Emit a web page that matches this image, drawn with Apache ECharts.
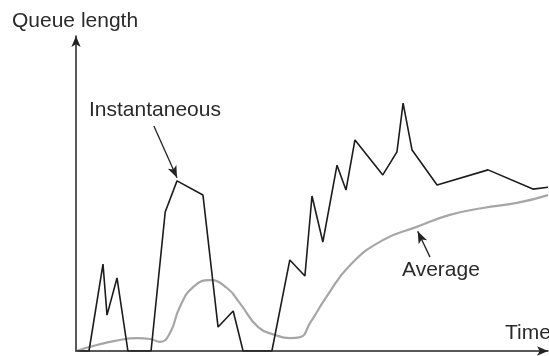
<!DOCTYPE html>
<html>
<head>
<meta charset="utf-8">
<script src="https://cdn.jsdelivr.net/npm/echarts@6/dist/echarts.min.js"></script>
<style>
html,body{margin:0;padding:0;background:#fff;}
#chart{width:549px;height:356px;}
</style>
</head>
<body>
<div id="chart"></div>
<script>
// Instantaneous queue length (time, length)
var instTime = [0, 2.75, 5.72, 6.57, 8.69, 11.0, 15.9, 18.9, 21.4, 26.9, 30.1, 33.3, 35.4, 41.5, 45.3, 48.5, 50.0, 52.3, 55.3, 57.2, 59.1, 65.0, 68.0, 69.3, 71.2, 76.5, 87.3, 96.8, 100];
var instQueue = [0, 0, 27.6, 11.4, 23.2, 0, 0, 44.1, 54.0, 49.5, 7.6, 12.7, 0, 0, 28.9, 23.8, 49.2, 34.6, 59.0, 51.1, 67.0, 55.9, 63.2, 78.7, 63.8, 52.7, 57.5, 51.4, 52.0];
// Average queue length (time, length)
var avgTime = [0, 4.4, 8.3, 12.9, 15.7, 17.8, 19.9, 22.0, 24.8, 28.4, 32.0, 34.7, 38.6, 42.2, 45.3, 47.5, 49.6, 53.2, 58.1, 65.0, 72.2, 79.2, 86.2, 93.4, 100];
var avgQueue = [0, 1.9, 3.2, 4.1, 3.8, 2.9, 5.7, 14.0, 20.3, 22.5, 20.0, 15.2, 7.6, 5.1, 4.1, 4.4, 8.9, 17.5, 27.3, 35.2, 39.4, 43.2, 45.4, 47.0, 49.5];
// Text labels
var yAxisTitle = 'Queue length';
var xAxisTitle = 'Time';
var instLabel = 'Instantaneous';
var avgLabel = 'Average';

function zip(a, b) { return a.map(function (v, i) { return [v, b[i]]; }); }

var chart = echarts.init(document.getElementById('chart'));
var font = '21px "Liberation Sans", Arial, sans-serif';
var txtColor = '#2a2a2a';
chart.setOption({
  animation: false,
  backgroundColor: '#fff',
  grid: { left: 76, right: 1, top: 36, bottom: 5 },
  xAxis: {
    type: 'value', min: 0, max: 100,
    axisLabel: { show: false }, axisTick: { show: false }, splitLine: { show: false },
    axisLine: { show: true, symbol: ['none', 'arrow'], symbolSize: [7, 11],
      lineStyle: { color: '#222', width: 1.5 } }
  },
  yAxis: {
    type: 'value', min: 0, max: 100,
    axisLabel: { show: false }, axisTick: { show: false }, splitLine: { show: false },
    axisLine: { show: true, symbol: ['none', 'arrow'], symbolSize: [7, 11],
      lineStyle: { color: '#222', width: 1.5 } }
  },
  series: [
    {
      type: 'line', data: zip(avgTime, avgQueue), smooth: 0.5, showSymbol: false,
      lineStyle: { color: '#a6a6a6', width: 2.2 }, z: 2
    },
    {
      type: 'line', data: zip(instTime, instQueue), showSymbol: false,
      lineStyle: { color: '#1c1c1c', width: 1.6 }, z: 3
    },
    {
      type: 'line', data: [], silent: true,
      markLine: {
        silent: true, symbol: ['none', 'arrow'], symbolSize: [7, 12],
        label: { show: false },
        lineStyle: { color: '#222', width: 1.3, type: 'solid' },
        data: [
          [{ coord: [16.5, 71.4] }, { coord: [21.4, 55.0] }],
          [{ coord: [75.0, 29.8] }, { coord: [72.4, 38.0] }]
        ]
      }
    }
  ],
  graphic: [
    { type: 'text', style: { text: yAxisTitle, x: 12, y: 21.5, font: font, fill: txtColor, textAlign: 'left', textVerticalAlign: 'middle' } },
    { type: 'text', style: { text: instLabel, x: 89, y: 110.5, font: font, fill: txtColor, textAlign: 'left', textVerticalAlign: 'middle' } },
    { type: 'text', style: { text: avgLabel, x: 402, y: 270, font: font, fill: txtColor, textAlign: 'left', textVerticalAlign: 'middle' } },
    { type: 'text', style: { text: xAxisTitle, x: 505, y: 333.5, font: font, fill: txtColor, textAlign: 'left', textVerticalAlign: 'middle' } }
  ]
});
</script>
</body>
</html>
